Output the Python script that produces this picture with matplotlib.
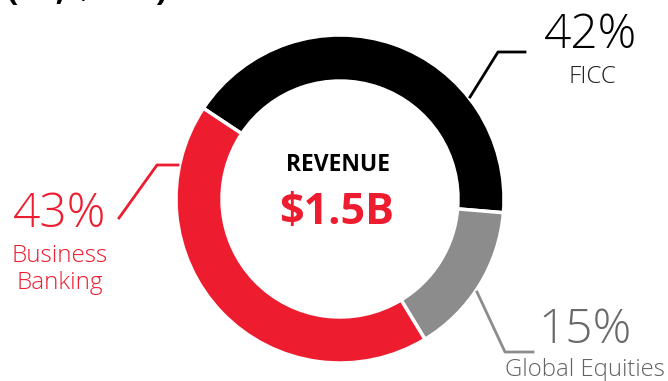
import matplotlib.pyplot as plt

# revenue mix, drawn clockwise from the upper left
segments = ['FICC', 'Global Equities', 'Business Banking']
shares = [42, 15, 43]
colors = ['#000000', '#8c8c8c', '#ed1c2e']
total_label = '$1.5B'

RED = '#ed1c2e'
GREY_TXT = '#636363'
W, H = 668, 381

fig = plt.figure(figsize=(W / 100, H / 100), dpi=100)
ax = fig.add_axes([0, 0, 1, 1])

ax.pie(shares, colors=colors, startangle=146.4, counterclock=False,
       radius=164, center=(340, 182),
       wedgeprops=dict(width=46, edgecolor='white', linewidth=2.5))
ax.set_xlim(0, W)
ax.set_ylim(0, H)
ax.set_aspect('equal')
ax.axis('off')

fam = 'Open Sans'
light = dict(family=fam, fontweight='light')

def y(v):
    return H - v

# leader lines
ax.plot([470, 498, 525], [y(97), y(52), y(52)], color='black', lw=2)
ax.plot([119, 157, 178], [y(218), y(165), y(165)], color=RED, lw=2)
ax.plot([477, 505, 533], [y(292), y(352), y(352)], color='#8c8c8c', lw=2)

# segment labels
ax.text(591, y(48), f'{shares[0]}%', ha='center', va='baseline', fontsize=34.5, color='black', **light)
ax.text(592, y(83), segments[0], ha='center', va='baseline', fontsize=17.5, color='#222222', **light)

ax.text(60, y(227), f'{shares[2]}%', ha='center', va='baseline', fontsize=34.5, color=RED, **light)
ax.text(60, y(262), 'Business', ha='center', va='baseline', fontsize=17.5, color=RED, **light)
ax.text(60, y(289), 'Banking', ha='center', va='baseline', fontsize=17.5, color=RED, **light)

ax.text(585, y(343), f'{shares[1]}%', ha='center', va='baseline', fontsize=34.5, color='#6a6a6a', **light)
ax.text(665, y(376), segments[1], ha='right', va='baseline', fontsize=17.2, color=GREY_TXT, **light)

# centre
ax.text(338, y(171), 'REVENUE', ha='center', va='baseline', fontsize=16.5, fontweight='bold', family=fam, color='black')
ax.text(337, y(224), total_label, ha='center', va='baseline', fontsize=31, fontweight='bold', family=fam, color=RED)

# heading running off the top edge
ax.text(167, y(0), '(FY, $MM)', ha='right', va='baseline', fontsize=24, fontweight='bold', family=fam, color='black')

fig.savefig('out.png', dpi=100)
